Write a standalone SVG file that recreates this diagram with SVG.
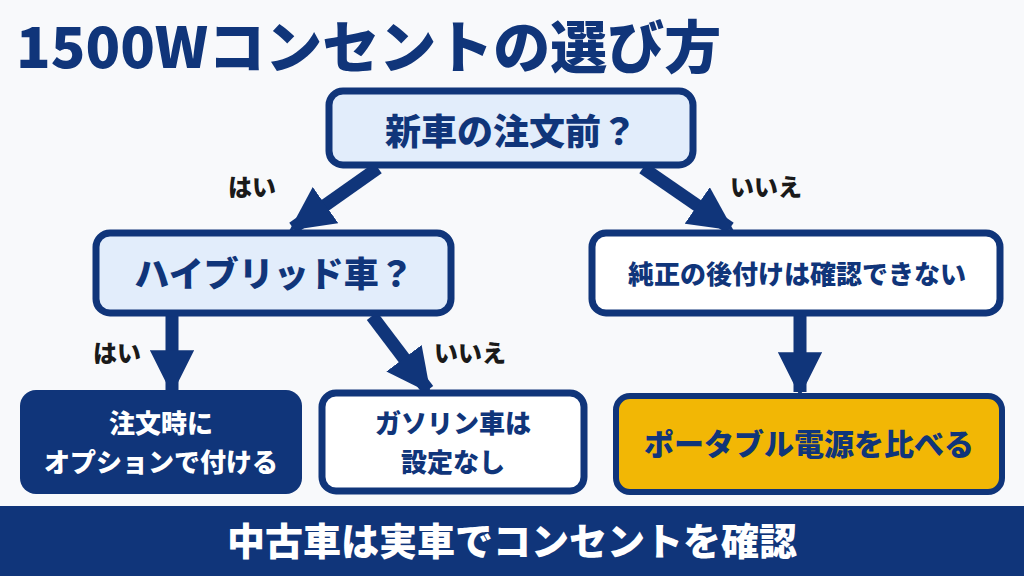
<svg xmlns="http://www.w3.org/2000/svg" width="1024" height="576" viewBox="0 0 1024 576">
<style>
.t{font-family:"Noto Sans CJK JP","Noto Sans",sans-serif;font-weight:900;text-anchor:middle}
.q{fill:#e2edfb;stroke:#10357a;stroke-width:7}
.w{fill:#fff;stroke:#10357a;stroke-width:7}
.c{stroke:#10357a;stroke-width:13;fill:none}
.l{font-family:"Noto Sans CJK JP","Noto Sans",sans-serif;font-weight:900;font-size:24px;fill:#1a1a1a}
</style>
<defs><marker id="a" viewBox="0 0 10 10" refX="9" refY="5" markerWidth="3.4" markerHeight="3.4" orient="auto" markerUnits="strokeWidth"><path d="M0,0L10,5L0,10z" fill="#10357a"/></marker></defs>
<rect width="1024" height="576" fill="#f8f9fb"/>
<text x="16" y="68" font-family="Noto Sans CJK JP,sans-serif" font-weight="900" font-size="57" fill="#10357a">1500Wコンセントの選び方</text>
<g id="connectors">
<line class="c" x1="378" y1="168" x2="293" y2="228" marker-end="url(#a)"/>
<line class="c" x1="643" y1="168" x2="730" y2="228" marker-end="url(#a)"/>
<line class="c" x1="172" y1="316" x2="172" y2="390" marker-end="url(#a)"/>
<line class="c" x1="372" y1="316" x2="428" y2="390" marker-end="url(#a)"/>
<line class="c" x1="800" y1="316" x2="800" y2="392" marker-end="url(#a)"/>
</g>
<text class="l" x="228" y="196">はい</text>
<text class="l" x="730" y="196">いいえ</text>
<text class="l" x="93" y="362">はい</text>
<text class="l" x="434" y="362">いいえ</text>
<g id="n1"><rect class="q" x="329" y="91" width="364" height="74" rx="14"/><text class="t" x="511" y="145" font-size="36" fill="#10357a">新車の注文前？</text></g>
<g id="n2"><rect class="q" x="96" y="233" width="355" height="80" rx="14"/><text class="t" x="274" y="287" font-size="35" fill="#10357a">ハイブリッド車？</text></g>
<g id="n3"><rect class="w" x="592" y="233" width="408" height="80" rx="14"/><text class="t" x="797" y="284" font-size="26" fill="#10357a">純正の後付けは確認できない</text></g>
<g id="n4"><rect x="20" y="390" width="282" height="104" rx="16" fill="#10357a"/><text class="t" x="161" y="433" font-size="26" fill="#fff">注文時に</text><text class="t" x="161" y="472" font-size="26" fill="#fff">オプションで付ける</text></g>
<g id="n5"><rect class="w" x="322" y="393" width="262" height="98" rx="14"/><text class="t" x="453" y="433" font-size="26" fill="#10357a">ガソリン車は</text><text class="t" x="453" y="472" font-size="26" fill="#10357a">設定なし</text></g>
<g id="n6"><rect x="616" y="396" width="386" height="96" rx="14" fill="#f2b705" stroke="#10357a" stroke-width="6"/><text class="t" x="809" y="455" font-size="30" fill="#10357a">ポータブル電源を比べる</text></g>
<g id="banner"><rect x="0" y="506" width="1024" height="70" fill="#10357a"/><text class="t" x="512" y="555" font-size="38" fill="#fff">中古車は実車でコンセントを確認</text></g>
</svg>
